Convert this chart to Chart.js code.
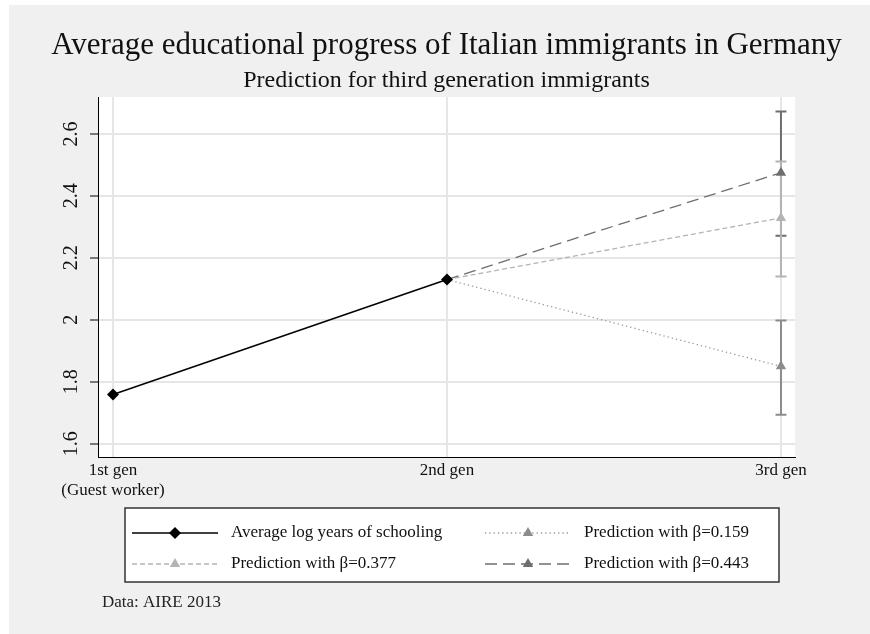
<!DOCTYPE html>
<html>
<head>
<meta charset="utf-8">
<script src="https://cdn.jsdelivr.net/npm/chart.js@4.4.1/dist/chart.umd.min.js"></script>
<style>
  body { margin: 0; background: #fff; }
  #wrap { position: absolute; left: 9px; top: 5px; width: 861px; height: 629px; background: #f0f0f0; }
</style>
</head>
<body>
<div id="wrap"><canvas id="chart" width="861" height="629"></canvas></div>
<script>
// values
var generations = [['1st gen', '(Guest worker)'], '2nd gen', '3rd gen'];
var genPos = [0, 1, 2];
var yTicks = [1.6, 1.8, 2, 2.2, 2.4, 2.6];

var schooling = [1.759, 2.130];   // 1st gen, 2nd gen
var pred159 = [2.130, 1.850];     // 2nd gen, 3rd gen
var pred377 = [2.130, 2.329];
var pred443 = [2.130, 2.475];

// confidence intervals at 3rd gen [low, high]
var ci159 = [1.694, 1.998];
var ci377 = [2.140, 2.511];
var ci443 = [2.271, 2.672];

var serif = '"Liberation Serif", "Times New Roman", serif';

function toPoints(xs, ys) {
    return ys.map(function(v, i) { return { x: xs[i], y: v }; });
}

// white plot region
var plotBackground = {
    id: 'plotBackground',
    beforeDraw: function(chart) {
        var a = chart.chartArea;
        chart.ctx.save();
        chart.ctx.fillStyle = '#fff';
        chart.ctx.fillRect(a.left, a.top, a.right - a.left, a.bottom - a.top);
        chart.ctx.restore();
    }
};

// error bars at 3rd gen, drawn under the markers
var errorBars = {
    id: 'errorBars',
    beforeDatasetsDraw: function(chart) {
        var ctx = chart.ctx;
        var x = chart.scales.x.getPixelForValue(genPos[2]);
        var y = chart.scales.y;
        var bars = [[ci443, '#6e6e6e'], [ci377, '#b4b4b4'], [ci159, '#8c8c8c']];
        ctx.save();
        ctx.lineWidth = 2;
        bars.forEach(function(b) {
            var lo = y.getPixelForValue(b[0][0]);
            var hi = y.getPixelForValue(b[0][1]);
            ctx.strokeStyle = b[1];
            ctx.beginPath();
            ctx.moveTo(x, lo); ctx.lineTo(x, hi);
            ctx.moveTo(x - 5.5, lo); ctx.lineTo(x + 5.5, lo);
            ctx.moveTo(x - 5.5, hi); ctx.lineTo(x + 5.5, hi);
            ctx.stroke();
        });
        ctx.restore();
    }
};

function drawMarker(ctx, style, color, cx, cy, r) {
    ctx.fillStyle = color;
    ctx.beginPath();
    if (style === 'rectRot') {
        ctx.moveTo(cx - r, cy); ctx.lineTo(cx, cy - r);
        ctx.lineTo(cx + r, cy); ctx.lineTo(cx, cy + r);
    } else {
        var h = r * 0.866;
        ctx.moveTo(cx, cy - r); ctx.lineTo(cx + h, cy + r / 2); ctx.lineTo(cx - h, cy + r / 2);
    }
    ctx.closePath();
    ctx.fill();
}

// titles, legend box and source note
var decorations = {
    id: 'decorations',
    afterDraw: function(chart) {
        var ctx = chart.ctx;
        var area = chart.chartArea;
        var mid = (area.left + area.right) / 2;
        ctx.save();
        ctx.fillStyle = '#111';
        ctx.textAlign = 'center';
        ctx.textBaseline = 'alphabetic';
        ctx.font = '31px ' + serif;
        ctx.fillText('Average educational progress of Italian immigrants in Germany', mid, 49);
        ctx.font = '24px ' + serif;
        ctx.fillText('Prediction for third generation immigrants', mid, 82);

        // legend
        ctx.fillStyle = '#fff';
        ctx.fillRect(116, 503, 654, 74);
        ctx.strokeStyle = '#333';
        ctx.lineWidth = 1.5;
        ctx.strokeRect(116, 503, 654, 74);

        var slots = [[123, 528], [476, 528], [123, 559], [476, 559]];
        chart.data.datasets.forEach(function(ds, i) {
            var sx = slots[i][0], sy = slots[i][1];
            ctx.strokeStyle = ds.borderColor;
            ctx.lineWidth = ds.borderWidth;
            ctx.setLineDash(ds.borderDash || []);
            ctx.beginPath();
            ctx.moveTo(sx, sy); ctx.lineTo(sx + 86, sy);
            ctx.stroke();
            ctx.setLineDash([]);
            drawMarker(ctx, ds.pointStyle, ds.pointBackgroundColor, sx + 43, sy, ds.legendRadius);
            ctx.fillStyle = '#111';
            ctx.textAlign = 'left';
            ctx.textBaseline = 'middle';
            ctx.font = '17px ' + serif;
            ctx.fillText(ds.label, sx + 99, sy);
        });

        ctx.fillStyle = '#222';
        ctx.font = '17px ' + serif;
        ctx.fillText('Data: AIRE 2013', 93, 598);
        ctx.restore();
    }
};

var thirdX = [genPos[1], genPos[2]];

new Chart(document.getElementById('chart'), {
    type: 'line',
    data: {
        datasets: [
            {
                label: 'Average log years of schooling',
                data: toPoints([genPos[0], genPos[1]], schooling),
                borderColor: '#000',
                borderWidth: 1.5,
                pointStyle: 'rectRot',
                pointRadius: 6,
                legendRadius: 6,
                pointBorderWidth: 0,
                pointBackgroundColor: '#000'
            },
            {
                label: 'Prediction with \u03b2=0.159',
                data: toPoints(thirdX, pred159),
                borderColor: '#9a9a9a',
                borderWidth: 1.3,
                borderDash: [1.3, 3],
                pointStyle: 'triangle',
                pointRadius: [0, 6],
                legendRadius: 6,
                pointBorderWidth: 0,
                pointBackgroundColor: '#8c8c8c'
            },
            {
                label: 'Prediction with \u03b2=0.377',
                data: toPoints(thirdX, pred377),
                borderColor: '#b4b4b4',
                borderWidth: 1.3,
                borderDash: [5, 3],
                pointStyle: 'triangle',
                pointRadius: [0, 6],
                legendRadius: 6,
                pointBorderWidth: 0,
                pointBackgroundColor: '#b4b4b4'
            },
            {
                label: 'Prediction with \u03b2=0.443',
                data: toPoints(thirdX, pred443),
                borderColor: '#6e6e6e',
                borderWidth: 1.3,
                borderDash: [12, 6],
                pointStyle: 'triangle',
                pointRadius: [0, 6],
                legendRadius: 6,
                pointBorderWidth: 0,
                pointBackgroundColor: '#6e6e6e'
            }
        ]
    },
    options: {
        responsive: false,
        animation: false,
        layout: { padding: { top: 92, right: 75, left: 0, bottom: 0 } },
        plugins: {
            legend: { display: false },
            tooltip: { enabled: false }
        },
        scales: {
            x: {
                type: 'linear',
                min: -0.045,
                max: 2.042,
                afterBuildTicks: function(scale) {
                    scale.ticks = genPos.map(function(v) { return { value: v }; });
                },
                afterFit: function(scale) { scale.height = 177; },
                grid: { color: '#e6e6e6', lineWidth: 2, drawTicks: false },
                border: { display: true, color: '#000', width: 1 },
                ticks: {
                    padding: 3,
                    color: '#111',
                    font: { family: serif, size: 17, lineHeight: 1.2 },
                    callback: function(v) { return generations[genPos.indexOf(v)]; }
                }
            },
            y: {
                min: 1.5575,
                max: 2.719,
                afterBuildTicks: function(scale) {
                    scale.ticks = yTicks.map(function(v) { return { value: v }; });
                },
                afterFit: function(scale) { scale.width = 89; },
                grid: { color: '#e6e6e6', lineWidth: 2, tickColor: '#000', tickLength: 8, tickWidth: 1 },
                border: { display: true, color: '#000', width: 1 },
                ticks: {
                    minRotation: 90,
                    maxRotation: 90,
                    crossAlign: 'center',
                    padding: 6,
                    color: '#111',
                    font: { family: serif, size: 20 },
                    callback: function(v) { return String(v); }
                }
            }
        }
    },
    plugins: [plotBackground, errorBars, decorations]
});
</script>
</body>
</html>
